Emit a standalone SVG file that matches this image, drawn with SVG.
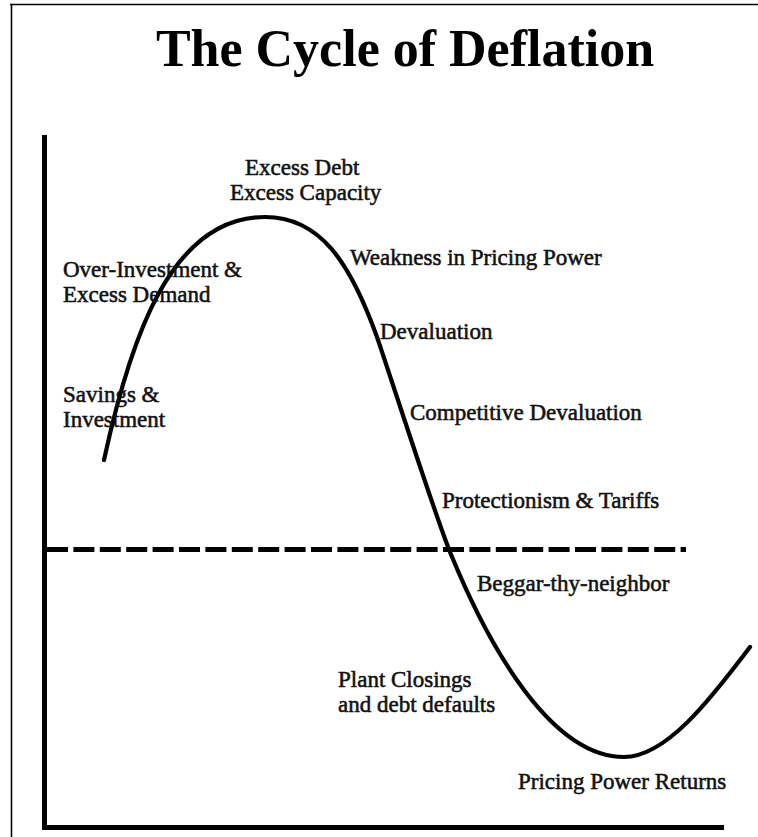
<svg xmlns="http://www.w3.org/2000/svg" width="758" height="837" viewBox="0 0 758 837">
  <style>
    .title { font-family: "Liberation Serif", "Times New Roman", serif; font-weight: bold; font-size: 52px; fill: #000; }
    .lbl { font-family: "Liberation Serif", "Times New Roman", serif; font-size: 23px; fill: #111; stroke: #111; stroke-width: 0.55px; }
    .frame { stroke: #000; stroke-width: 1.6; fill: none; }
    .axis { stroke: #000; stroke-width: 5; fill: none; }
    .zero { stroke: #000; stroke-width: 5; fill: none; stroke-dasharray: 21 5.4; }
    .cycle { stroke: #000; stroke-width: 4.2; fill: none; stroke-linecap: round; }
  </style>

  <rect width="758" height="837" fill="#fff"/>

  <!-- page frame -->
  <g id="frame">
    <line class="frame" x1="10" y1="4.5" x2="758" y2="4.5"/>
    <line class="frame" x1="11.5" y1="4" x2="11.5" y2="837"/>
  </g>

  <g id="title">
    <text class="title" x="405" y="66" text-anchor="middle">The Cycle of Deflation</text>
  </g>

  <!-- axes and the dashed baseline -->
  <g id="axes">
    <line class="axis" x1="44.5" y1="135" x2="44.5" y2="830"/>
    <line class="axis" x1="42" y1="827.5" x2="724" y2="827.5"/>
    <line class="zero" x1="47" y1="549.5" x2="686" y2="549.5"/>
  </g>

  <!-- the cycle curve -->
  <g id="connectors">
    <path class="cycle" d="M104,460 C130,340 170,217 265,217 C320,217 350,262 377,337 C392,381 434,512 450,552 C490,650 552,757 624,757 C666,757 710,700 750,647"/>
  </g>

  <!-- stage labels -->
  <g id="savings">
    <text class="lbl" x="63" y="402">Savings &amp;</text>
    <text class="lbl" x="63" y="427">Investment</text>
  </g>
  <g id="over-investment">
    <text class="lbl" x="63" y="277">Over-Investment &amp;</text>
    <text class="lbl" x="63" y="302">Excess Demand</text>
  </g>
  <g id="excess-debt">
    <text class="lbl" x="245" y="175">Excess Debt</text>
    <text class="lbl" x="230" y="200">Excess Capacity</text>
  </g>
  <g id="weakness">
    <text class="lbl" x="350" y="265">Weakness in Pricing Power</text>
  </g>
  <g id="devaluation">
    <text class="lbl" x="380" y="339">Devaluation</text>
  </g>
  <g id="competitive">
    <text class="lbl" x="410" y="420">Competitive Devaluation</text>
  </g>
  <g id="protectionism">
    <text class="lbl" x="442" y="508">Protectionism &amp; Tariffs</text>
  </g>
  <g id="beggar">
    <text class="lbl" x="477" y="591">Beggar-thy-neighbor</text>
  </g>
  <g id="plant-closings">
    <text class="lbl" x="338" y="687">Plant Closings</text>
    <text class="lbl" x="338" y="712">and debt defaults</text>
  </g>
  <g id="pricing-returns">
    <text class="lbl" x="518" y="789">Pricing Power Returns</text>
  </g>
</svg>
